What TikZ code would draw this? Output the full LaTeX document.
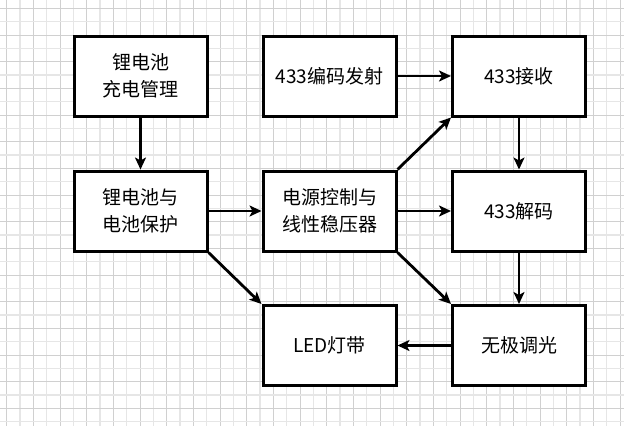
\documentclass[tikz,border=0pt]{standalone}
\usepackage{fontspec}
\newfontfamily\cjk{Noto Sans CJK SC}
\usetikzlibrary{arrows.meta}
\definecolor{gridA}{HTML}{D0D0D0}
\definecolor{gridB}{HTML}{E6E6E6}
\tikzset{
  blockbox/.style={draw=black, line width=3pt, minimum width=133pt, minimum height=80pt,
    inner sep=0pt, align=center, font=\cjk\fontsize{19}{26.5}\selectfont, fill=white},
  conn/.style={line width=2.8pt, -{Stealth[length=12pt,width=11pt,inset=3pt]}},
}
\begin{document}
\begin{tikzpicture}[x=1pt,y=-1pt]
\useasboundingbox (0,0) rectangle (624,426);
\fill[white] (0,0) rectangle (624,426);
% grid
\foreach \i in {0,...,46} {
  \pgfmathsetmacro{\xx}{6.667+13.333*\i}
  \ifodd\i
    \draw[gridB, line width=1.5pt] (\xx,0) -- (\xx,426);
  \else
    \draw[gridA, line width=0.9pt] (\xx,0) -- (\xx,426);
  \fi
}
\foreach \i in {0,...,31} {
  \pgfmathsetmacro{\yy}{8.333+13.333*\i}
  \ifodd\i
    \draw[gridB, line width=1.5pt] (0,\yy) -- (624,\yy);
  \else
    \draw[gridA, line width=0.9pt] (0,\yy) -- (624,\yy);
  \fi
}
% nodes
\node[blockbox] (charge) at (140.5,76) {锂电池\\充电管理};
\node[blockbox] (prot) at (140.5,211) {锂电池与\\电池保护};
\node[blockbox] (tx) at (329.5,76) {433编码发射};
\node[blockbox] (pwr) at (329.5,211) {电源控制与\\线性稳压器};
\node[blockbox] (led) at (329.5,345.5) {LED灯带};
\node[blockbox] (rx) at (519,76) {433接收};
\node[blockbox] (dec) at (519,211) {433解码};
\node[blockbox] (dim) at (519,345.5) {无极调光};
% connectors
\draw[conn] (charge) -- (prot);
\draw[conn] (prot) -- (pwr);
\draw[conn] (prot.south east) -- (led.north west);
\draw[conn] (tx) -- (rx);
\draw[conn] (pwr.north east) -- (rx.south west);
\draw[conn] (pwr) -- (dec);
\draw[conn] (pwr.south east) -- (dim.north west);
\draw[conn] (rx) -- (dec);
\draw[conn] (dec) -- (dim);
\draw[conn] (dim) -- (led);
\end{tikzpicture}
\end{document}
